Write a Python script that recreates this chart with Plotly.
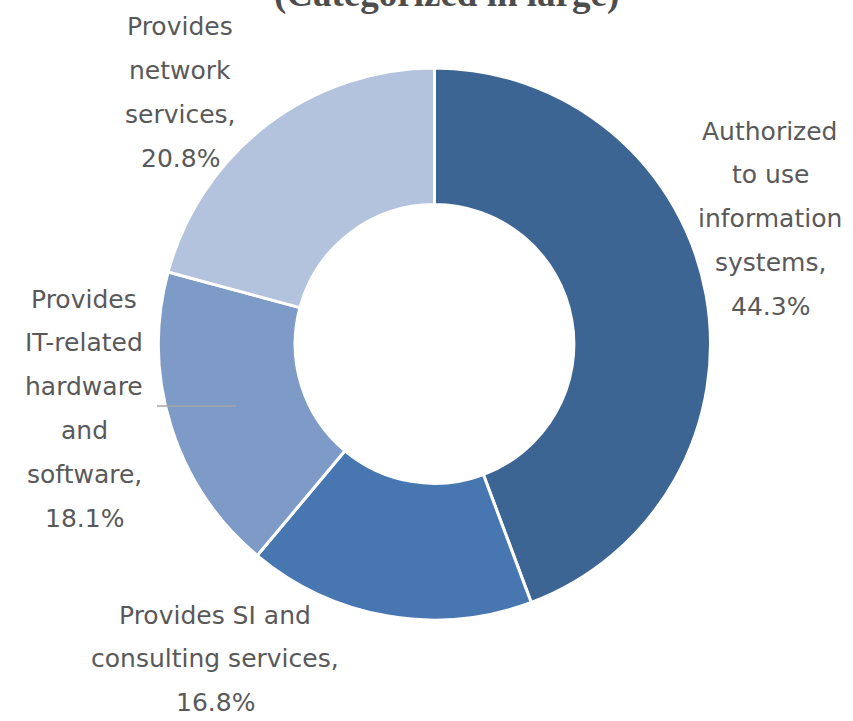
import plotly.graph_objects as go

# Share of companies by business category
categories = [
    "Authorized to use information systems",
    "Provides SI and consulting services",
    "Provides IT-related hardware and software",
    "Provides network services",
]
shares = [44.3, 16.8, 18.1, 20.8]
colors = ["#3D6594", "#4776B0", "#7E9BC8", "#B4C3DD"]

# Label line breaks for each category (value appended below)
label_lines = [
    ["Authorized", "to use", "information", "systems,"],
    ["Provides SI and", "consulting services,"],
    ["Provides", "IT-related", "hardware", "and", "software,"],
    ["Provides", "network", "services,"],
]
# Label block anchors in pixels: (center x, first-line y)
label_anchor = [(770, 131), (215, 615), (84, 299), (180, 27)]
LINE_STEP = 43.8

W, H = 853, 721
cx, cy, R = 434.5, 344, 276

fig = go.Figure(
    go.Pie(
        labels=categories,
        values=shares,
        hole=0.505,
        sort=False,
        direction="clockwise",
        rotation=0,
        marker=dict(colors=colors, line=dict(color="white", width=3)),
        textinfo="none",
        hoverinfo="label+percent",
        domain=dict(
            x=[(cx - R) / W, (cx + R) / W],
            y=[(H - cy - R) / H, (H - cy + R) / H],
        ),
        showlegend=False,
    )
)

annotations = []
for lines, val, (ax, ay) in zip(label_lines, shares, label_anchor):
    for i, line in enumerate(lines + [f"{val:.1f}%"]):
        annotations.append(
            dict(
                x=ax / W,
                y=1 - (ay + i * LINE_STEP) / H,
                xref="paper",
                yref="paper",
                text=line,
                showarrow=False,
                xanchor="center",
                yanchor="middle",
                font=dict(family="DejaVu Sans", size=25, color="#595959"),
            )
        )

annotations.append(
    dict(
        x=446 / W,
        y=1 - (-6) / H,
        xref="paper",
        yref="paper",
        text="<b>(Categorized in large)</b>",
        showarrow=False,
        xanchor="center",
        yanchor="middle",
        font=dict(family="Liberation Serif", size=37, color="#4D4D4D"),
    )
)

fig.update_layout(
    width=W,
    height=H,
    margin=dict(l=0, r=0, t=0, b=0),
    paper_bgcolor="white",
    plot_bgcolor="white",
    annotations=annotations,
    shapes=[
        dict(
            type="line",
            xref="paper",
            yref="paper",
            x0=157 / W,
            x1=236 / W,
            y0=1 - 406 / H,
            y1=1 - 406 / H,
            line=dict(color="#A6A6A6", width=1.5),
        )
    ],
)

fig.write_html("out.html")
